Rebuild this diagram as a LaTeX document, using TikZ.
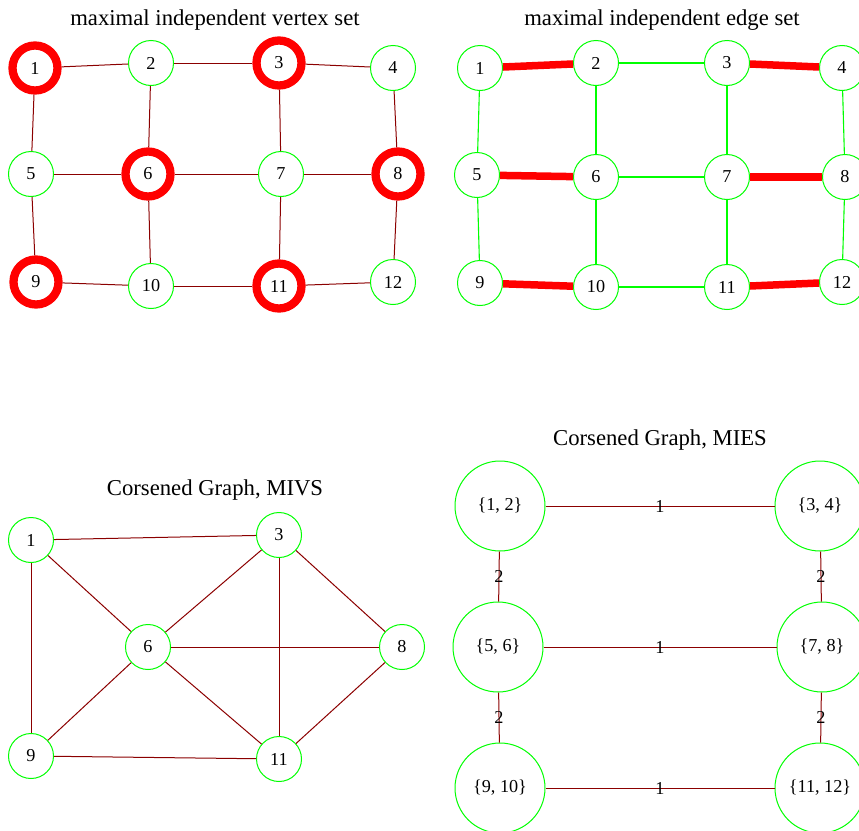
\documentclass[tikz,border=0pt]{standalone}
\usepackage{fontspec}
\setmainfont{Liberation Serif}
\definecolor{vgreen}{HTML}{00FF00}
\definecolor{edgered}{HTML}{8B0000}
\definecolor{hot}{HTML}{FF0000}
\begin{document}
\begin{tikzpicture}[x=1pt,y=-1pt,
  vert/.style={circle,draw=vgreen,line width=1pt,minimum size=45pt,inner sep=0pt,
    font=\fontsize{18.2}{21}\selectfont},
  picked/.style={vert,draw=hot,line width=8.3pt},
  big/.style={vert,minimum size=90pt},
  link/.style={draw=edgered,line width=1pt},
  glink/.style={draw=vgreen,line width=1.1pt},
  rlink/.style={draw=hot,line width=7.5pt},
  wlabel/.style={font=\fontsize{18.2}{21}\selectfont,inner sep=0pt},
  heading/.style={font=\fontsize{22.7}{26}\selectfont,inner sep=0pt}]
\useasboundingbox (0,0) rectangle (859,830);
\clip (0,0) rectangle (859,830);

% ---- maximal independent vertex set ----
\node[heading] (t1) at (215,20) {maximal independent vertex set};
\node[picked] (a1) at (35,68) {1};
\node[vert]   (a2) at (151,63) {2};
\node[picked] (a3) at (279,63) {3};
\node[vert]   (a4) at (393,68) {4};
\node[vert]   (a5) at (31,174) {5};
\node[picked] (a6) at (148,174) {6};
\node[vert]   (a7) at (281,174) {7};
\node[picked] (a8) at (398,174) {8};
\node[picked] (a9) at (36,282) {9};
\node[vert]   (a10) at (151,286) {10};
\node[picked] (a11) at (279,286) {11};
\node[vert]   (a12) at (393,282) {12};
\foreach \u/\v in {a1/a2,a2/a3,a3/a4,a1/a5,a2/a6,a3/a7,a4/a8,a5/a6,a6/a7,a7/a8,
                   a5/a9,a6/a10,a7/a11,a8/a12,a9/a10,a10/a11,a11/a12}
  \draw[link] (\u) -- (\v);

% ---- maximal independent edge set ----
\node[heading] (t2) at (662,20) {maximal independent edge set};
\node[vert] (b1) at (480,68) {1};
\node[vert] (b2) at (596,63) {2};
\node[vert] (b3) at (727,63) {3};
\node[vert] (b4) at (842,68) {4};
\node[vert] (b5) at (477,175) {5};
\node[vert] (b6) at (596,177) {6};
\node[vert] (b7) at (727,177) {7};
\node[vert] (b8) at (845,177) {8};
\node[vert] (b9) at (480,283) {9};
\node[vert] (b10) at (596,287) {10};
\node[vert] (b11) at (727,287) {11};
\node[vert] (b12) at (842,282) {12};
\foreach \u/\v in {b2/b3,b1/b5,b2/b6,b3/b7,b4/b8,b6/b7,b5/b9,b6/b10,b7/b11,b8/b12,b10/b11}
  \draw[glink] (\u) -- (\v);
\foreach \u/\v in {b1/b2,b3/b4,b5/b6,b7/b8,b9/b10,b11/b12}
  \draw[rlink] (\u) -- (\v);

% ---- coarsened graph from the vertex set ----
\node[heading] (t3) at (215,490) {Corsened Graph, MIVS};
\node[vert] (c1) at (31,540) {1};
\node[vert] (c3) at (279,535) {3};
\node[vert] (c6) at (148,647) {6};
\node[vert] (c8) at (402,647) {8};
\node[vert] (c9) at (31,756) {9};
\node[vert] (c11) at (279,759) {11};
\foreach \u/\v in {c1/c3,c1/c6,c1/c9,c3/c6,c3/c11,c3/c8,c6/c8,c6/c9,c6/c11,c8/c11,c9/c11}
  \draw[link] (\u) -- (\v);

% ---- coarsened graph from the edge set ----
\node[heading] (t4) at (660,440) {Corsened Graph, MIES};
\node[big] (d12) at (500,506) {\{1, 2\}};
\node[big] (d34) at (820,506) {\{3, 4\}};
\node[big] (d56) at (498,647) {\{5, 6\}};
\node[big] (d78) at (822,647) {\{7, 8\}};
\node[big] (d910) at (500,788) {\{9, 10\}};
\node[big] (d1112) at (820,788) {\{11, 12\}};
\foreach \u/\v in {d12/d34,d56/d78,d910/d1112}
  \draw[link] (\u) -- node[wlabel] {1} (\v);
\foreach \u/\v in {d12/d56,d56/d910,d34/d78,d78/d1112}
  \draw[link] (\u) -- node[wlabel] {2} (\v);
\end{tikzpicture}
\end{document}
